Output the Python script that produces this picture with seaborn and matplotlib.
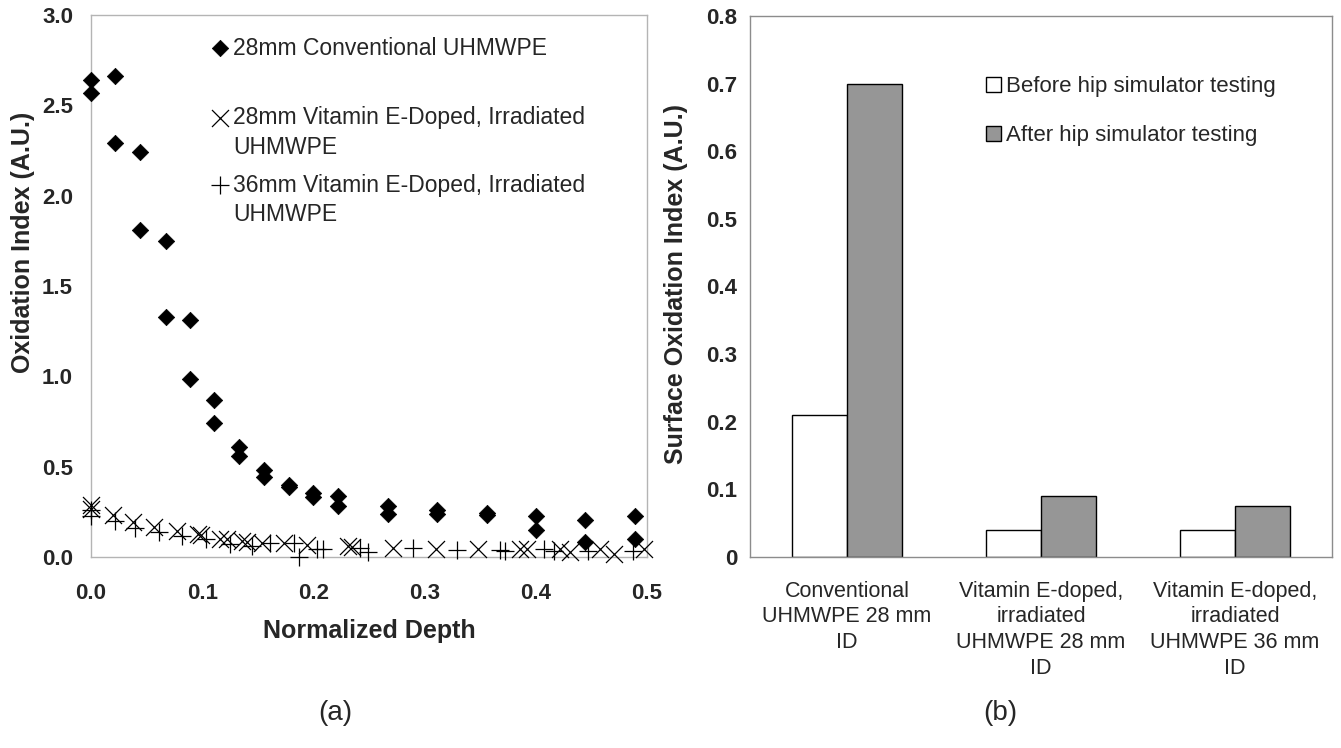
import numpy as np
import pandas as pd
import matplotlib
matplotlib.use('Agg')
import matplotlib.pyplot as plt
from matplotlib.patches import Patch
from matplotlib.ticker import FormatStrFormatter, FixedLocator
import seaborn as sns

sns.set_style("white")
plt.rcParams['font.family'] = ['Liberation Sans', 'DejaVu Sans']

# (a) oxidation index vs normalized depth
conv_x = [0.0, 0.0, 0.022, 0.022, 0.044, 0.044, 0.067, 0.067, 0.089, 0.089,
          0.111, 0.111, 0.133, 0.133, 0.156, 0.156, 0.178, 0.178, 0.200, 0.200,
          0.222, 0.222, 0.267, 0.267, 0.311, 0.311, 0.356, 0.356, 0.400, 0.400,
          0.444, 0.444, 0.489, 0.489]
conv_y = [2.64, 2.57, 2.66, 2.29, 2.24, 1.81, 1.75, 1.33, 1.31, 0.985,
          0.87, 0.74, 0.61, 0.56, 0.48, 0.445, 0.40, 0.39, 0.355, 0.33,
          0.34, 0.285, 0.28, 0.24, 0.26, 0.24, 0.245, 0.235, 0.225, 0.15,
          0.205, 0.085, 0.225, 0.10]

ve28_x = [0.0, 0.0, 0.020, 0.038, 0.057, 0.077, 0.096, 0.099, 0.116, 0.122,
          0.136, 0.140, 0.154, 0.174, 0.194, 0.231, 0.235, 0.272, 0.310, 0.348,
          0.386, 0.392, 0.422, 0.431, 0.458, 0.470, 0.497]
ve28_y = [0.29, 0.265, 0.23, 0.195, 0.165, 0.145, 0.125, 0.12, 0.10, 0.10,
          0.09, 0.085, 0.08, 0.075, 0.065, 0.06, 0.055, 0.05, 0.045, 0.045,
          0.045, 0.045, 0.045, 0.025, 0.045, 0.015, 0.045]

ve36_x = [0.0, 0.0, 0.022, 0.040, 0.061, 0.082, 0.103, 0.125, 0.145, 0.161,
          0.183, 0.187, 0.203, 0.209, 0.242, 0.249, 0.290, 0.329, 0.368, 0.372,
          0.407, 0.416, 0.447, 0.487]
ve36_y = [0.26, 0.225, 0.20, 0.16, 0.138, 0.118, 0.10, 0.072, 0.063, 0.08,
          0.08, 0.0, 0.045, 0.045, 0.05, 0.025, 0.05, 0.04, 0.04, 0.035,
          0.045, 0.035, 0.035, 0.035]

# (b) surface oxidation index
categorias = ['Conventional\nUHMWPE 28 mm\nID',
              'Vitamin E-doped,\nirradiated\nUHMWPE 28 mm\nID',
              'Vitamin E-doped,\nirradiated\nUHMWPE 36 mm\nID']
antes = [0.21, 0.04, 0.04]
depois = [0.70, 0.09, 0.075]
grupos = ['Before hip simulator testing', 'After hip simulator testing']

fig = plt.figure(figsize=(13.41, 7.48), dpi=100)

# ---------- painel (a) ----------
ax1 = fig.add_axes([91 / 1341, 1 - 557 / 748, 556 / 1341, 542 / 748])
sns.scatterplot(x=conv_x, y=conv_y, marker='D', color='black', s=70,
                edgecolor='black', linewidth=0.5, clip_on=False, ax=ax1, zorder=3)
sns.scatterplot(x=ve28_x, y=ve28_y, marker='x', color='black', s=150,
                linewidth=0.9, clip_on=False, ax=ax1, zorder=3)
sns.scatterplot(x=ve36_x, y=ve36_y, marker='+', color='black', s=150,
                linewidth=0.9, clip_on=False, ax=ax1, zorder=3)

ax1.set_xlim(0, 0.5)
ax1.set_ylim(0, 3.0)
ax1.set_xticks(np.arange(0, 0.51, 0.1))
ax1.set_yticks(np.arange(0, 3.01, 0.5))
ax1.xaxis.set_major_formatter(FormatStrFormatter('%.1f'))
ax1.yaxis.set_major_formatter(FormatStrFormatter('%.1f'))
for sp in ax1.spines.values():
    sp.set_color('#b4b4b4')
    sp.set_linewidth(1)
ax1.tick_params(axis='both', which='major', direction='out', length=5,
                width=1, color='#b4b4b4', labelsize=16)
ax1.tick_params(axis='y', pad=8)
ax1.tick_params(axis='x', pad=14)
for lbl in ax1.get_xticklabels() + ax1.get_yticklabels():
    lbl.set_fontweight('bold')
ax1.set_xlabel('Normalized Depth', fontsize=18, fontweight='bold')
ax1.set_ylabel('Oxidation Index (A.U.)', fontsize=18, fontweight='bold')
ax1.xaxis.set_label_coords(0.5, -0.115)
ax1.yaxis.set_label_coords(-0.10, 0.58)

# legenda manual (Excel style)
leg_items = [('D', 70, 0.939, ['28mm Conventional UHMWPE']),
             ('x', 150, 0.810, ['28mm Vitamin E-Doped, Irradiated', 'UHMWPE']),
             ('+', 150, 0.686, ['36mm Vitamin E-Doped, Irradiated', 'UHMWPE'])]
for mk, sz, yy, linhas in leg_items:
    ax1.scatter([0.232], [yy], marker=mk, s=sz, color='black',
                linewidths=0.9 if mk != 'D' else 0.5, transform=ax1.transAxes,
                clip_on=False)
    for i, txt in enumerate(linhas):
        ax1.text(0.255, yy - i * 0.054, txt, transform=ax1.transAxes,
                 fontsize=16.5, va='center', ha='left')

# ---------- painel (b) ----------
ax2 = fig.add_axes([750 / 1341, 1 - 557 / 748, 582 / 1341, 541 / 748])
df_bar = pd.DataFrame({
    'cat': categorias * 2,
    'val': antes + depois,
    'grp': [grupos[0]] * 3 + [grupos[1]] * 3,
})
sns.barplot(data=df_bar, x='cat', y='val', hue='grp',
            palette=['white', '#969696'], edgecolor='black', linewidth=1,
            width=0.57, gap=0, saturation=1, legend=False, ax=ax2)
ax2.set_xlim(-0.5, 2.5)
ax2.set_ylim(0, 0.8)
ax2.set_yticks(np.arange(0, 0.81, 0.1))
ax2.set_yticklabels(['0'] + ['%.1f' % v for v in np.arange(0.1, 0.81, 0.1)])
ax2.xaxis.set_minor_locator(FixedLocator([-0.5, 0.5, 1.5, 2.5]))
for sp in ax2.spines.values():
    sp.set_color('#8c8c8c')
    sp.set_linewidth(1)
ax2.tick_params(axis='y', direction='out', length=5, width=1,
                color='#8c8c8c', labelsize=16, pad=4)
ax2.tick_params(axis='x', which='major', length=0, labelsize=15.5, pad=17)
ax2.tick_params(axis='x', which='minor', direction='out', length=6, width=1,
                color='#8c8c8c')
for lbl in ax2.get_yticklabels():
    lbl.set_fontweight('bold')
for lbl in ax2.get_xticklabels():
    lbl.set_multialignment('center')
    lbl.set_linespacing(1.3)
ax2.set_xlabel('')
ax2.set_ylabel('Surface Oxidation Index (A.U.)', fontsize=18, fontweight='bold')
ax2.yaxis.set_label_coords(-0.107, 0.505)

handles = [Patch(facecolor='white', edgecolor='black', linewidth=1),
           Patch(facecolor='#969696', edgecolor='black', linewidth=1)]
ax2.legend(handles, grupos, loc='upper left', bbox_to_anchor=(0.39, 0.905),
           frameon=False, fontsize=16, handlelength=0.7, handleheight=0.7,
           handletextpad=0.2, labelspacing=1.25, borderaxespad=0)

fig.text(335 / 1341, 1 - 713 / 748, '(a)', fontsize=20, ha='center', va='center')
fig.text(1000 / 1341, 1 - 713 / 748, '(b)', fontsize=20, ha='center', va='center')

fig.savefig('out.png', dpi=100)
